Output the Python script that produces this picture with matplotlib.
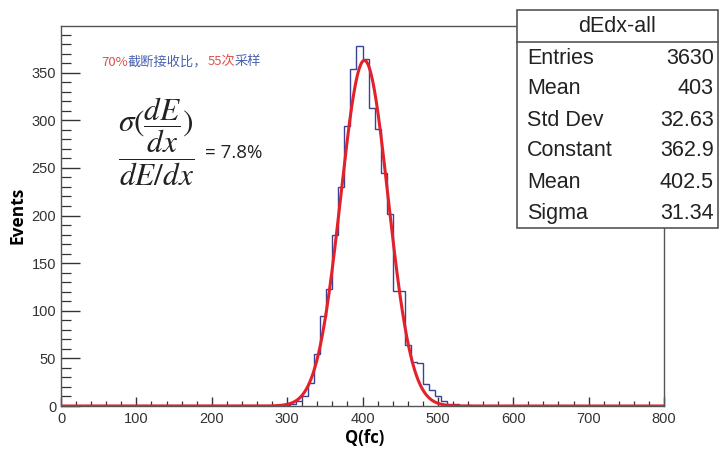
import numpy as np
import matplotlib
matplotlib.use("Agg")
import matplotlib.pyplot as plt
from matplotlib.patches import Rectangle
from matplotlib.lines import Line2D
from matplotlib.ticker import MultipleLocator

# ---- data ----
bin_edges = np.arange(0, 808, 8)
# non-zero bins: lower edge -> count
bin_low = [296, 304, 312, 320, 328, 336, 344, 352, 360, 368, 376, 384, 392, 400,
           408, 416, 424, 432, 440, 448, 456, 464, 472, 480, 488, 496, 504, 512, 520, 536]
bin_count = [1, 2, 5, 10, 24, 55, 95, 123, 180, 230, 294, 354, 378, 364,
             313, 291, 245, 202, 121, 121, 64, 46, 45, 23, 17, 10, 5, 2, 2, 1]
fit_const = 362.9
fit_mean = 402.5
fit_sigma = 31.34
stat_title = "dEdx-all"
stat_names = ["Entries", "Mean", "Std Dev", "Constant", "Mean", "Sigma"]
stat_values = ["3630", "403", "32.63", "362.9", "402.5", "31.34"]
x_ticks = [0, 100, 200, 300, 400, 500, 600, 700, 800]
y_ticks = [0, 50, 100, 150, 200, 250, 300, 350]

counts = np.zeros(len(bin_edges) - 1)
for lo, c in zip(bin_low, bin_count):
    counts[lo // 8] = c

plt.rcParams["mathtext.fontset"] = "stix"

W, H = 722, 450
fig = plt.figure(figsize=(W / 100, H / 100), dpi=100)
ax = fig.add_axes([61 / W, 1 - 406 / H, (664 - 61) / W, (406 - 26) / H])

ax.stairs(counts, bin_edges, color="#3b4294", linewidth=1.0, zorder=2)
xf = np.linspace(0, 800, 2000)
yf = fit_const * np.exp(-0.5 * ((xf - fit_mean) / fit_sigma) ** 2)
ax.plot(xf, yf, color="#e3212b", linewidth=2.2, zorder=3, solid_capstyle="butt")

ax.set_xlim(0, 800)
ax.set_ylim(0, 399)
ax.set_xticks(x_ticks)
ax.set_yticks(y_ticks)
ax.xaxis.set_minor_locator(MultipleLocator(20))
ax.yaxis.set_minor_locator(MultipleLocator(10))
ax.tick_params(axis="both", which="both", direction="in", colors="#333333",
               labelcolor="#333333", labelsize=10.5)
ax.tick_params(axis="y", which="major", length=13.5, width=1)
ax.tick_params(axis="y", which="minor", length=7, width=0.9)
ax.tick_params(axis="x", which="major", length=6.5, width=1, pad=4)
ax.tick_params(axis="x", which="minor", length=3.3, width=0.9)
for lab in ax.get_xticklabels() + ax.get_yticklabels():
    lab.set_family("Liberation Sans")
for s in ax.spines.values():
    s.set_color("#555555")
    s.set_linewidth(1.0)

fig.text(365 / W, 1 - 438 / H, "Q(fc)", ha="center", va="center",
         fontsize=12, fontweight="bold", family="Open Sans")
fig.text(18 / W, 1 - 215 / H, "Events", ha="center", va="center", rotation=90,
         fontsize=12.5, fontweight="bold", family="Open Sans")

# Chinese annotation with colored parts
parts = [("70%", "#d9534f"), ("截断接收比，", "#4a62b0"), ("55次", "#d9534f"), ("采样", "#4a62b0")]
xpos = 101
renderer = fig.canvas.get_renderer()
for txt, col in parts:
    t = fig.text(xpos / W, 1 - 62 / H, txt, ha="left", va="center", fontsize=9.5,
                 color=col, family=["Noto Sans CJK SC", "DejaVu Sans"])
    bb = t.get_window_extent(renderer=renderer)
    xpos += bb.width

# formula
fig.text(157 / W, 1 - 142 / H, r"$\dfrac{\sigma(\dfrac{dE}{dx})}{dE/dx}$",
         ha="center", va="center", fontsize=22.5, color="#222222")
fig.text(205 / W, 1 - 153 / H, "= 7.8%", ha="left", va="center", fontsize=13.5,
         family="Open Sans", color="#222222")

# stats box
bx0, bx1, by0, by1, bsep = 517, 718, 10, 228, 42
fig.add_artist(Rectangle((bx0 / W, 1 - by1 / H), (bx1 - bx0) / W, (by1 - by0) / H,
                         transform=fig.transFigure, facecolor="white",
                         edgecolor="#555555", linewidth=1.2, zorder=10))
fig.add_artist(Line2D([bx0 / W, bx1 / W], [1 - bsep / H, 1 - bsep / H],
                      transform=fig.transFigure, color="#555555", linewidth=1.2, zorder=11))
fig.text((bx0 + bx1) / 2 / W, 1 - 26 / H, stat_title, ha="center", va="center",
         fontsize=15.5, family="Liberation Sans", color="#222222", zorder=12)
for i, (n, v) in enumerate(zip(stat_names, stat_values)):
    yc = 1 - (58 + 31 * i) / H
    fig.text(527 / W, yc, n, ha="left", va="center", fontsize=15.5,
             family="Liberation Sans", color="#222222", zorder=12)
    fig.text(714 / W, yc, v, ha="right", va="center", fontsize=15.5,
             family="Liberation Sans", color="#222222", zorder=12)

fig.savefig("out.png", dpi=100)
